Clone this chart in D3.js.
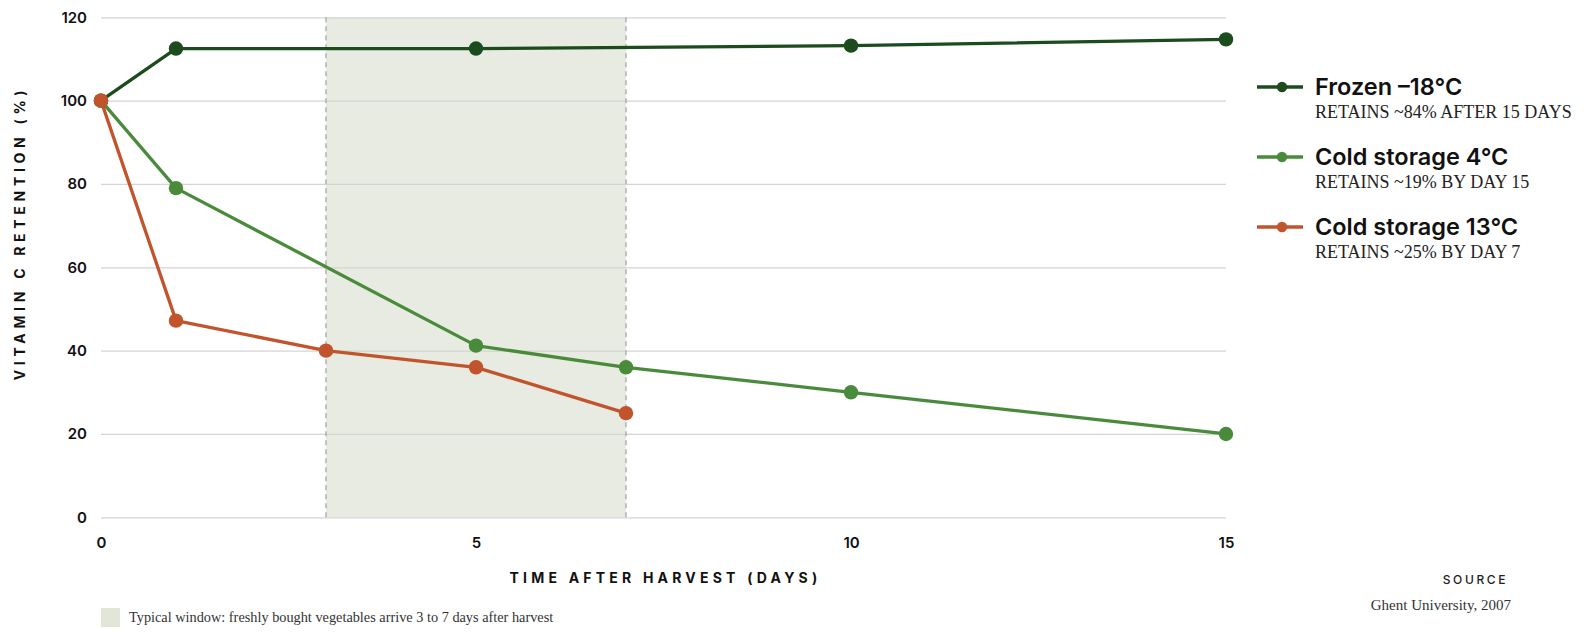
<!DOCTYPE html>
<html>
<head>
<meta charset="utf-8">
<script src="https://cdn.jsdelivr.net/npm/d3@7"></script>
<style>
  html, body { margin: 0; padding: 0; background: #ffffff; }
  svg { display: block; }
  .sans { font-family: Inter, "Noto Sans", sans-serif; }
  .serif { font-family: "Liberation Serif", "DejaVu Serif", serif; }
</style>
</head>
<body>
<svg id="chart" width="1585" height="633"></svg>
<script>
// Days after harvest at which each storage condition was measured
const frozenDays = [0, 1, 5, 10, 15];
const frozenValues = [100, 112.5, 112.5, 113.2, 114.7];

const cold4Days = [0, 1, 5, 7, 10, 15];
const cold4Values = [100, 79, 41.2, 36, 30, 20];

const cold13Days = [0, 1, 3, 5, 7];
const cold13Values = [100, 47.2, 40, 36, 25];

const seriesNames = ["Frozen \u201318\u00b0C", "Cold storage 4\u00b0C", "Cold storage 13\u00b0C"];
const seriesNotes = ["RETAINS ~84% AFTER 15 DAYS", "RETAINS ~19% BY DAY 15", "RETAINS ~25% BY DAY 7"];
const seriesColors = ["#1c4b1d", "#4a8b3b", "#c1542c"];

const xTicks = [0, 5, 10, 15];
const yTicks = [0, 20, 40, 60, 80, 100, 120];
const windowDays = [3, 7];

const svg = d3.select("#chart");
const plotLeft = 101, plotRight = 1226, plotTop = 17.3, plotBottom = 517.3;

const x = d3.scaleLinear().domain([0, 15]).range([plotLeft, plotRight]);
const y = d3.scaleLinear().domain([0, 120]).range([plotBottom, plotTop]);

// Shaded purchase window
svg.append("rect")
  .attr("x", x(windowDays[0]))
  .attr("y", plotTop)
  .attr("width", x(windowDays[1]) - x(windowDays[0]))
  .attr("height", plotBottom - plotTop)
  .attr("fill", "#e8ebe1");

// Horizontal gridlines
const grid = svg.append("g")
  .attr("transform", `translate(${plotLeft},0)`)
  .call(d3.axisLeft(y).tickValues(yTicks).tickSize(-(plotRight - plotLeft)).tickFormat(""));
grid.select(".domain").remove();
grid.selectAll("line").attr("stroke", "#d4d4d4").attr("stroke-width", 1.3);

// Dashed window borders
svg.selectAll("line.window")
  .data(windowDays)
  .join("line")
  .attr("class", "window")
  .attr("x1", d => x(d)).attr("x2", d => x(d))
  .attr("y1", plotTop).attr("y2", plotBottom)
  .attr("stroke", "#a6a6a6")
  .attr("stroke-width", 1.3)
  .attr("stroke-dasharray", "5,4");

// Axes
const yAxis = svg.append("g")
  .attr("transform", `translate(${plotLeft},0)`)
  .call(d3.axisLeft(y).tickValues(yTicks).tickSize(0).tickPadding(14));
yAxis.select(".domain").remove();
yAxis.selectAll("text")
  .attr("class", "sans")
  .style("font-size", "15px").style("font-weight", 600).attr("fill", "#111");

const xAxis = svg.append("g")
  .attr("transform", `translate(0,${plotBottom})`)
  .call(d3.axisBottom(x).tickValues(xTicks).tickSize(0).tickPadding(20));
xAxis.select(".domain").remove();
xAxis.selectAll("text")
  .attr("class", "sans")
  .style("font-size", "15px").style("font-weight", 600).attr("fill", "#111");

// Axis titles
svg.append("text")
  .attr("class", "sans")
  .attr("x", (plotLeft + plotRight) / 2 + 2).attr("y", 583)
  .attr("text-anchor", "middle")
  .style("font-size", "14px").style("font-weight", 700)
  .style("letter-spacing", "4.2px")
  .attr("fill", "#111")
  .text("TIME AFTER HARVEST (DAYS)");

svg.append("text")
  .attr("class", "sans")
  .attr("transform", "translate(25,233) rotate(-90)")
  .attr("text-anchor", "middle")
  .style("font-size", "14px").style("font-weight", 700)
  .style("letter-spacing", "4.7px")
  .attr("fill", "#111")
  .text("VITAMIN C RETENTION (%)");

// Series lines and markers
const series = [
  { days: frozenDays, values: frozenValues },
  { days: cold4Days, values: cold4Values },
  { days: cold13Days, values: cold13Values }
];

const line = d3.line().x(d => x(d[0])).y(d => y(d[1]));

series.forEach((s, i) => {
  const pts = s.days.map((d, j) => [d, s.values[j]]);
  const g = svg.append("g");
  g.append("path")
    .datum(pts)
    .attr("d", line)
    .attr("fill", "none")
    .attr("stroke", seriesColors[i])
    .attr("stroke-width", 3.3)
    .attr("stroke-linejoin", "round");
  g.selectAll("circle")
    .data(pts)
    .join("circle")
    .attr("cx", d => x(d[0]))
    .attr("cy", d => y(d[1]))
    .attr("r", 7.2)
    .attr("fill", seriesColors[i]);
});

// Legend
const legend = svg.append("g").attr("transform", "translate(1257,0)");
seriesNames.forEach((name, i) => {
  const base = 95 + i * 70;
  const g = legend.append("g");
  g.append("line")
    .attr("x1", 0).attr("x2", 46)
    .attr("y1", base - 8).attr("y2", base - 8)
    .attr("stroke", seriesColors[i]).attr("stroke-width", 3.3);
  g.append("circle")
    .attr("cx", 25).attr("cy", base - 8).attr("r", 5.2)
    .attr("fill", seriesColors[i]);
  g.append("text")
    .attr("class", "sans")
    .attr("x", 58).attr("y", base)
    .style("font-size", "23.5px").style("font-weight", 600)
    .attr("fill", "#111")
    .text(name);
  g.append("text")
    .attr("class", "serif")
    .attr("x", 58).attr("y", base + 23)
    .style("font-size", "18px")
    .attr("fill", "#222")
    .text(seriesNotes[i]);
});

// Window key
svg.append("rect")
  .attr("x", 101).attr("y", 608)
  .attr("width", 19).attr("height", 19)
  .attr("fill", "#e2e6d9");
svg.append("text")
  .attr("class", "serif")
  .attr("x", 129).attr("y", 622)
  .style("font-size", "14.3px")
  .attr("fill", "#333")
  .text("Typical window: freshly bought vegetables arrive 3 to 7 days after harvest");

// Source
svg.append("text")
  .attr("class", "sans")
  .attr("x", 1508).attr("y", 584)
  .attr("text-anchor", "end")
  .style("font-size", "12px").style("font-weight", 500)
  .style("letter-spacing", "2.6px")
  .attr("fill", "#222")
  .text("SOURCE");
svg.append("text")
  .attr("class", "serif")
  .attr("x", 1511).attr("y", 610)
  .attr("text-anchor", "end")
  .style("font-size", "15px")
  .attr("fill", "#333")
  .text("Ghent University, 2007");
</script>
</body>
</html>
